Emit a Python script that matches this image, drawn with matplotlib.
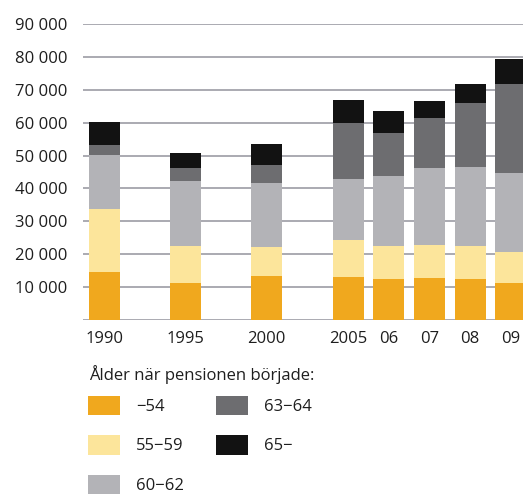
import matplotlib.pyplot as plt
import numpy as np

# Data
years = ['1990', '1995', '2000', '2005', '06', '07', '08', '09']
positions = [0, 2, 4, 6, 7, 8, 9, 10]
age_groups = ['\u221254', '55\u221259', '60\u221262', '63\u221264', '65\u2212']
age_54 = [14700, 11100, 13500, 13100, 12500, 12800, 12600, 11300]
age_55_59 = [18900, 11400, 8700, 11100, 10100, 10100, 9900, 9500]
age_60_62 = [16600, 19900, 19600, 18700, 21100, 23400, 24000, 23800]
age_63_64 = [3100, 3800, 5300, 17000, 13200, 15200, 19500, 27300]
age_65 = [7000, 4500, 6300, 7000, 6500, 5000, 5700, 7400]

series = [age_54, age_55_59, age_60_62, age_63_64, age_65]
colors = ['#f0a81e', '#fce59b', '#b3b3b7', '#6d6d70', '#121212']

plt.rcParams['font.family'] = ['Open Sans', 'DejaVu Sans']
text_color = '#1e1e1e'

fig = plt.figure(figsize=(5.23, 4.94), dpi=100)
ax = fig.add_axes([83 / 523, 174 / 494, 1 - 83 / 523, 296 / 494])

bottom = np.zeros(len(years))
handles = []
for vals, col, lab in zip(series, colors, age_groups):
    b = ax.bar(positions, vals, width=0.76, bottom=bottom, color=col,
               label=lab, zorder=3)
    handles.append(b)
    bottom += np.array(vals)

ax.set_xlim(-0.52, 10.3)
ax.set_ylim(0, 90000)

yt = np.arange(0, 100000, 10000)
ax.set_yticks(yt)
ax.set_yticklabels([''] + ['{:,}'.format(v).replace(',', ' ') for v in yt[1:]])
ax.set_xticks(positions)
ax.set_xticklabels(years)
ax.tick_params(axis='y', length=0, pad=11, labelsize=12, labelcolor=text_color)
ax.tick_params(axis='x', length=0, pad=8, labelsize=12, labelcolor=text_color)
ax.grid(axis='y', color='#9c9ca4', linewidth=1.2, zorder=0)
ax.set_axisbelow(True)
for s in ax.spines.values():
    s.set_visible(False)

# Legend title as separate text, entries below
fig.text(89 / 523, 1 - 375 / 494, '\u00c5lder n\u00e4r pensionen b\u00f6rjade:',
         fontsize=12, color=text_color, ha='left', va='center')
leg = fig.legend(handles=handles, loc='upper left',
                 bbox_to_anchor=(88 / 523, 1 - 396 / 494), ncol=2,
                 frameon=False, fontsize=12, handlelength=1.9,
                 handleheight=1.4, handletextpad=1.0, labelspacing=1.2,
                 columnspacing=1.9, borderpad=0, borderaxespad=0)
for t in leg.get_texts():
    t.set_color(text_color)

fig.savefig('out.png', dpi=100)
